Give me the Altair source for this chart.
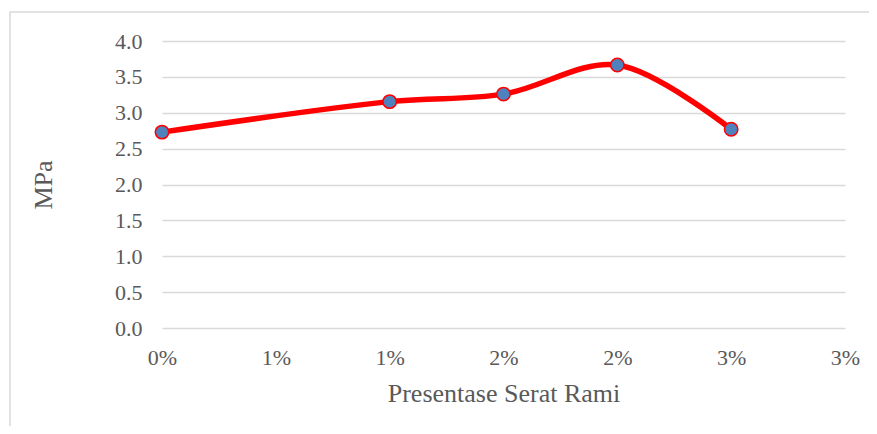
import altair as alt
import pandas as pd

# Data
x_pct = [0.0, 1.0, 1.5, 2.0, 2.5]
mpa = [2.73, 3.155, 3.26, 3.665, 2.77]
x_tick_values = [0.0, 0.5, 1.0, 1.5, 2.0, 2.5, 3.0]
x_tick_labels = ["0%", "1%", "1%", "2%", "2%", "3%", "3%"]
y_tick_values = [0.0, 0.5, 1.0, 1.5, 2.0, 2.5, 3.0, 3.5, 4.0]

df = pd.DataFrame({"x": x_pct, "y": mpa})

FONT = "Liberation Serif"
TXT = "#595959"
GRID = "#d9d9d9"

label_arr = "[" + ",".join("'" + s + "'" for s in x_tick_labels) + "]"
val_arr = "[" + ",".join(str(v) for v in x_tick_values) + "]"
label_expr = f"{label_arr}[indexof({val_arr}, datum.value)]"

W, H = 683, 287

x_scale = alt.Scale(domain=[0, 3], nice=False, zero=False)
y_scale = alt.Scale(domain=[0, 4], nice=False)

x_axis = alt.Axis(
    title="Presentase Serat Rami",
    values=x_tick_values,
    labelExpr=label_expr,
    grid=False,
    domain=False,
    ticks=False,
    tickSize=0,
    labelPadding=19,
    labelFont=FONT,
    labelFontSize=22,
    labelColor=TXT,
    labelBaseline="top",
    labelFlush=False,
    labelOverlap=False,
    titleFont=FONT,
    titleFontSize=26,
    titleFontWeight="normal",
    titleColor=TXT,
    titleBaseline="alphabetic",
    titleX=W / 2,
    titleY=73,
    titleAlign="center",
)
y_axis = alt.Axis(
    title="MPa",
    values=y_tick_values,
    format=".1f",
    grid=True,
    gridColor=GRID,
    gridWidth=1.5,
    domain=False,
    ticks=False,
    tickSize=0,
    labelPadding=20,
    labelFont=FONT,
    labelFontSize=22,
    labelColor=TXT,
    labelOverlap=False,
    titleFont=FONT,
    titleFontSize=26,
    titleFontWeight="normal",
    titleColor=TXT,
    titleAngle=-90,
    titleBaseline="alphabetic",
    titleAlign="center",
    titleX=-111,
    titleY=H / 2,
)

frame = alt.Chart(pd.DataFrame({"d": [0]})).mark_rect(
    fill=None, stroke=GRID, strokeWidth=1.5
).encode(
    x=alt.value(-152),
    x2=alt.value(W + 200),
    y=alt.value(-29),
    y2=alt.value(H + 200),
)

base = alt.Chart(df).encode(
    x=alt.X("x:Q", scale=x_scale, axis=x_axis),
    y=alt.Y("y:Q", scale=y_scale, axis=y_axis),
)

line = base.mark_line(color="#ff0000", strokeWidth=5.5, interpolate="catmull-rom")

points = base.mark_point(
    filled=True, fill="#4f81bd", stroke="#ff0000", strokeWidth=1.5,
    size=180, opacity=1, fillOpacity=1, shape="circle"
)

chart = alt.layer(frame, line, points).properties(
    width=W,
    height=H,
    autosize=alt.AutoSizeParams(type="none"),
    padding={"left": 154, "top": 33, "right": 24, "bottom": 98},
    background="white",
).configure_view(stroke=None)

chart.save("out.html", embed_options={"renderer": "svg", "actions": False})
